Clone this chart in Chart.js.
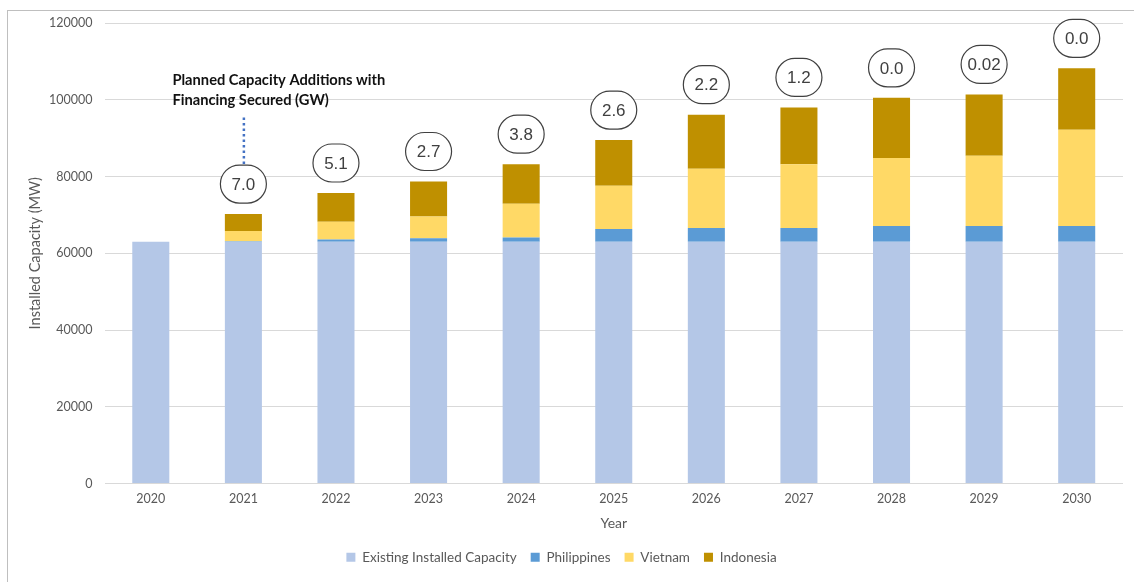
<!DOCTYPE html>
<html>
<head>
<meta charset="utf-8">
<script src="https://cdn.jsdelivr.net/npm/chart.js@4"></script>
<style>
    html, body { margin: 0; padding: 0; background: #FFFFFF; }
    #wrap  { position: relative; width: 1134px; height: 582px; overflow: hidden; }
    #frame { position: absolute; left: 7px; top: 10px; right: -2px; bottom: -2px;
             border-left: 1px solid #BFBFBF; border-top: 1px solid #BFBFBF; }
    #chart { position: absolute; left: 0; top: 0; }
</style>
</head>
<body>
<div id="wrap">
    <div id="frame"></div>
    <canvas id="chart" width="1134" height="582"></canvas>
</div>
<script>
// ─── Data (MW) ───────────────────────────────────────────────────────────────
const years         = ['2020', '2021', '2022', '2023', '2024', '2025', '2026', '2027', '2028', '2029', '2030'];
const existingMW    = [63000, 63000, 63000, 63000, 63000, 63000, 63000, 63000, 63000, 63000, 63000];
const philippinesMW = [0, 150, 600, 900, 1100, 3300, 3600, 3600, 4100, 4100, 4100];
const vietnamMW     = [0, 2650, 4600, 5700, 8800, 11300, 15400, 16600, 17700, 18300, 25100];
const indonesiaMW   = [0, 4400, 7500, 9100, 10300, 11900, 14100, 14800, 15700, 16000, 16000];
// planned additions with financing secured (GW), shown in ovals above bars
const additionsGW   = ['', '7.0', '5.1', '2.7', '3.8', '2.6', '2.2', '1.2', '0.0', '0.02', '0.0'];
const yTickValues   = [0, 20000, 40000, 60000, 80000, 100000, 120000];
const noteLines     = ['Planned Capacity Additions with', 'Financing Secured (GW)'];

const TEXT_GREY = '#595959';
const GRID_GREY = '#D9D9D9';
const FONT      = 'Lato, "Open Sans", sans-serif';

// ─── Oval labels + callout note ──────────────────────────────────────────────
const additionsPlugin = {
    id: 'additions',
    afterDatasetsDraw(chart) {
        const ctx = chart.ctx;
        const x   = chart.scales.x;
        const y   = chart.scales.y;
        const w = 46, h = 38, gap = 30;
        let firstOval = null;

        ctx.save();
        additionsGW.forEach((label, i) => {
            if (!label) return;
            const total = existingMW[i] + philippinesMW[i] + vietnamMW[i] + indonesiaMW[i];
            const cx = x.getPixelForValue(i);
            const cy = y.getPixelForValue(total) - gap;
            if (!firstOval) firstOval = { cx, cy };

            ctx.beginPath();
            ctx.roundRect(cx - w / 2, cy - h / 2, w, h, 19);
            ctx.fillStyle = '#FFFFFF';
            ctx.fill();
            ctx.lineWidth = 1.2;
            ctx.strokeStyle = '#404040';
            ctx.stroke();

            ctx.fillStyle = '#404040';
            ctx.font = '17px "Liberation Sans", Arial, sans-serif';
            ctx.textAlign = 'center';
            ctx.textBaseline = 'middle';
            ctx.fillText(label, cx, cy + 1);
        });

        // dotted pointer from the first oval up to the note
        if (firstOval) {
            const { cx, cy } = firstOval;
            ctx.beginPath();
            ctx.setLineDash([2.5, 3]);
            ctx.lineWidth = 2.5;
            ctx.strokeStyle = '#4472C4';
            ctx.moveTo(cx + 0.5, cy - h / 2 - 1);
            ctx.lineTo(cx + 0.5, cy - 67);
            ctx.stroke();
            ctx.setLineDash([]);

            ctx.fillStyle = '#111111';
            ctx.font = 'bold 14.7px ' + FONT;
            ctx.textAlign = 'left';
            ctx.textBaseline = 'middle';
            noteLines.forEach((line, k) => {
                ctx.fillText(line, cx - 71, cy - 104 + k * 20);
            });
        }
        ctx.restore();
    }
};

// ─── Chart ───────────────────────────────────────────────────────────────────
const barStyle = { barPercentage: 0.4, categoryPercentage: 1, borderWidth: 0 };

new Chart(document.getElementById('chart'), {
    type: 'bar',
    data: {
        labels: years,
        datasets: [
            { label: 'Existing Installed Capacity', data: existingMW,    backgroundColor: '#B4C7E7', ...barStyle },
            { label: 'Philippines',                 data: philippinesMW, backgroundColor: '#5B9BD5', ...barStyle },
            { label: 'Vietnam',                     data: vietnamMW,     backgroundColor: '#FFD966', ...barStyle },
            { label: 'Indonesia',                   data: indonesiaMW,   backgroundColor: '#BF9000', ...barStyle }
        ]
    },
    options: {
        responsive: false,
        animation: false,
        layout: { padding: { top: 23, right: 11, bottom: 8, left: 0 } },
        plugins: {
            tooltip: { enabled: false },
            legend: {
                position: 'bottom',
                labels: {
                    boxWidth: 9,
                    boxHeight: 9,
                    padding: 14,
                    color: TEXT_GREY,
                    font: { family: FONT, size: 13.5 }
                }
            }
        },
        scales: {
            x: {
                stacked: true,
                grid:   { display: false, drawTicks: false },
                border: { display: false },
                ticks:  { color: TEXT_GREY, padding: 8, font: { family: FONT, size: 12.5 } },
                title:  { display: true, text: 'Year', color: TEXT_GREY,
                          padding: { top: 0, bottom: 5 },
                          font: { family: FONT, size: 14 } },
                afterFit: scale => { scale.height = 53; }
            },
            y: {
                stacked: true,
                min: 0,
                max: 120000,
                grid:   { color: GRID_GREY, lineWidth: 1, drawTicks: false },
                border: { display: false },
                afterBuildTicks: scale => { scale.ticks = yTickValues.map(v => ({ value: v })); },
                ticks:  { color: TEXT_GREY, padding: 12,
                          font: { family: FONT, size: 12.5 },
                          callback: v => String(v) },
                title:  { display: true, text: 'Installed Capacity (MW)', color: TEXT_GREY,
                          padding: { top: 27, bottom: 0 },
                          font: { family: FONT, size: 14.5 } },
                afterFit: scale => { scale.width = 104.5; }
            }
        }
    },
    plugins: [additionsPlugin]
});
</script>
</body>
</html>
